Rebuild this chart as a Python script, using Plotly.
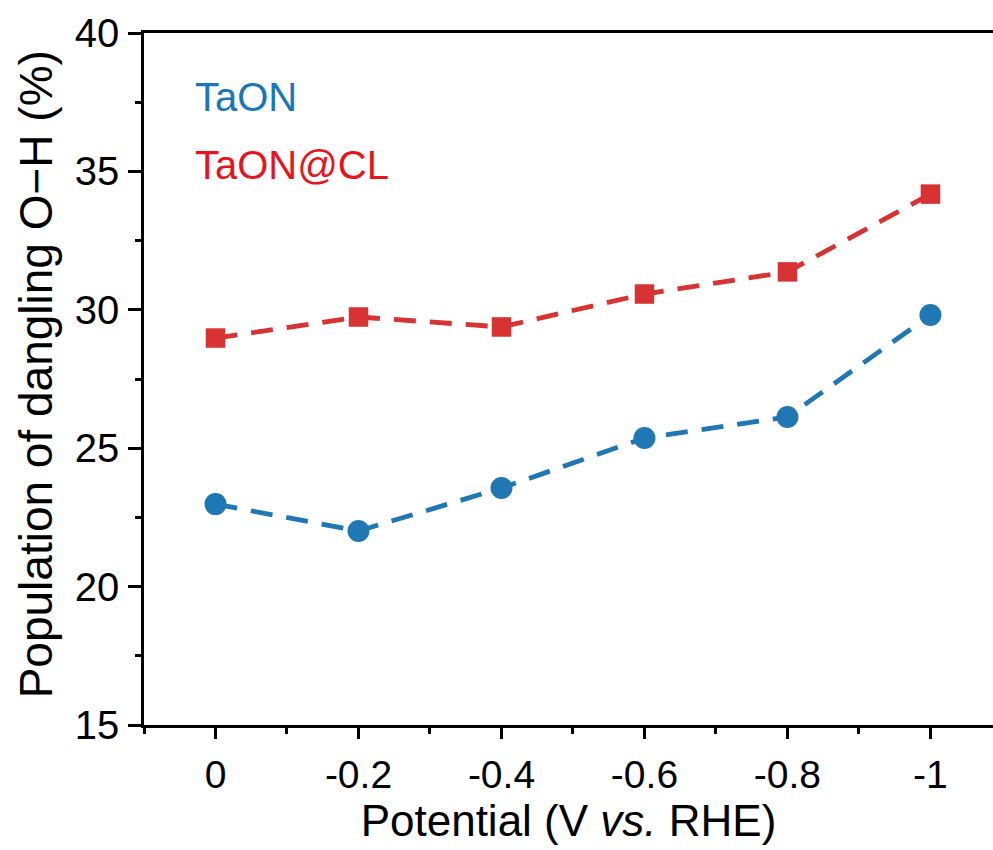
import plotly.graph_objects as go

potential = [0, -0.2, -0.4, -0.6, -0.8, -1.0]
taon = [22.98, 22.01, 23.56, 25.37, 26.13, 29.81]
taon_cl = [28.98, 29.74, 29.38, 30.57, 31.37, 34.18]
x_ticks = [0, -0.2, -0.4, -0.6, -0.8, -1.0]
x_ticklabels = ["0", "-0.2", "-0.4", "-0.6", "-0.8", "-1"]
y_ticks = [15, 20, 25, 30, 35, 40]

blue = "#1f77b4"
red = "#d83232"
font = "Liberation Sans, Arial, sans-serif"

fig = go.Figure()
fig.add_trace(go.Scatter(
    x=potential, y=taon, mode="lines+markers", name="TaON",
    line=dict(color=blue, width=4.8, dash="22px,14px"),
    marker=dict(symbol="circle", size=22, color=blue),
))
fig.add_trace(go.Scatter(
    x=potential, y=taon_cl, mode="lines+markers", name="TaON@CL",
    line=dict(color=red, width=4.8, dash="22px,14px"),
    marker=dict(symbol="square", size=19.5, color=red),
))

fig.add_annotation(x=0.058, y=0.9075, xref="paper", yref="paper", text="TaON",
                   showarrow=False, xanchor="left", yanchor="middle",
                   font=dict(family=font, size=40, color="#1a75bb"))
fig.add_annotation(x=0.058, y=0.809, xref="paper", yref="paper", text="TaON@CL",
                   showarrow=False, xanchor="left", yanchor="middle",
                   font=dict(family=font, size=40, color="#e8141c"))
# y-axis title
fig.add_annotation(x=-0.127, y=0.507, xref="paper", yref="paper",
                   text="Population of dangling O\u2212H (%)", textangle=-90,
                   showarrow=False, xanchor="center", yanchor="middle",
                   font=dict(family=font, size=46, color="black"))

fig.update_layout(
    width=993, height=850,
    margin=dict(l=144, r=0, t=33, b=125),
    paper_bgcolor="white", plot_bgcolor="white",
    showlegend=False,
    font=dict(family=font, size=39, color="black"),
)
fig.update_xaxes(
    range=[0.1, -1.0875], tickvals=x_ticks, ticktext=x_ticklabels,
    showline=True, linecolor="black", linewidth=2.5, mirror=True,
    ticks="outside", ticklen=11, tickwidth=2.5, tickcolor="black",
    minor=dict(ticks="outside", ticklen=6, tickwidth=2.5, tickcolor="black", dtick=0.1, tick0=0.1),
    showgrid=False, zeroline=False,
    title=dict(text="Potential (V <i>vs.</i> RHE)", font=dict(size=44), standoff=8),
    tickfont=dict(size=39), ticklabelstandoff=2,
)
fig.update_yaxes(
    range=[15, 40], tickvals=y_ticks,
    showline=True, linecolor="black", linewidth=2.5,
    ticks="outside", ticklen=13, tickwidth=2.5, tickcolor="black",
    minor=dict(ticks="outside", ticklen=6, tickwidth=2.5, tickcolor="black", dtick=2.5, tick0=15),
    showgrid=False, zeroline=False,
    tickfont=dict(size=40), ticklabelstandoff=1,
)

fig.write_html("out.html")
